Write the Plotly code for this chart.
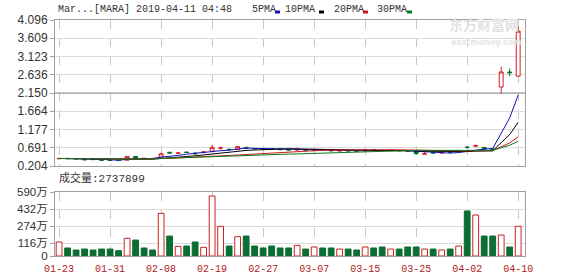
import plotly.graph_objects as go
import pandas as pd

# ---------------- data ----------------
DATES = [
    "2019-01-23", "2019-01-24", "2019-01-25", "2019-01-28", "2019-01-29", "2019-01-30", "2019-01-31",
    "2019-02-01", "2019-02-04", "2019-02-05", "2019-02-06", "2019-02-07", "2019-02-08", "2019-02-11",
    "2019-02-12", "2019-02-13", "2019-02-14", "2019-02-15", "2019-02-19", "2019-02-20", "2019-02-21",
    "2019-02-22", "2019-02-25", "2019-02-26", "2019-02-27", "2019-02-28", "2019-03-01", "2019-03-04",
    "2019-03-05", "2019-03-06", "2019-03-07", "2019-03-08", "2019-03-11", "2019-03-12", "2019-03-13",
    "2019-03-14", "2019-03-15", "2019-03-18", "2019-03-19", "2019-03-20", "2019-03-21", "2019-03-22",
    "2019-03-25", "2019-03-26", "2019-03-27", "2019-03-28", "2019-03-29", "2019-04-01", "2019-04-02",
    "2019-04-03", "2019-04-04", "2019-04-05", "2019-04-08", "2019-04-09", "2019-04-10",
]
OPEN = [0.395, 0.41, 0.40, 0.395, 0.38, 0.375, 0.36, 0.355, 0.36, 0.46, 0.41, 0.405, 0.44, 0.57,
        0.54, 0.575, 0.55, 0.56, 0.60, 0.68, 0.65, 0.64, 0.70, 0.67, 0.665, 0.66, 0.65, 0.64,
        0.63, 0.64, 0.62, 0.635, 0.62, 0.60, 0.62, 0.61, 0.60, 0.64, 0.625, 0.61, 0.62, 0.61,
        0.60, 0.52, 0.56, 0.55, 0.58, 0.58, 0.705, 0.735, 0.70, 0.66, 2.31, 2.71, 2.60]
HIGH = [0.41, 0.415, 0.405, 0.40, 0.385, 0.38, 0.365, 0.36, 0.47, 0.47, 0.415, 0.41, 0.56, 0.58,
        0.57, 0.58, 0.56, 0.59, 0.77, 0.72, 0.66, 0.73, 0.71, 0.68, 0.67, 0.665, 0.655, 0.645,
        0.66, 0.645, 0.64, 0.64, 0.625, 0.63, 0.625, 0.615, 0.65, 0.645, 0.63, 0.63, 0.625, 0.615,
        0.605, 0.58, 0.565, 0.57, 0.585, 0.62, 0.74, 0.78, 0.71, 0.67, 2.85, 2.80, 3.93]
LOW = [0.39, 0.395, 0.39, 0.36, 0.37, 0.35, 0.345, 0.34, 0.355, 0.40, 0.40, 0.395, 0.43, 0.54,
       0.53, 0.56, 0.52, 0.55, 0.59, 0.64, 0.63, 0.63, 0.66, 0.65, 0.64, 0.64, 0.63, 0.62,
       0.62, 0.62, 0.61, 0.615, 0.60, 0.595, 0.60, 0.595, 0.595, 0.62, 0.61, 0.605, 0.605, 0.595,
       0.52, 0.51, 0.545, 0.545, 0.565, 0.575, 0.67, 0.71, 0.64, 0.63, 2.12, 2.60, 2.58]
CLOSE = [0.405, 0.40, 0.395, 0.37, 0.375, 0.355, 0.35, 0.35, 0.46, 0.41, 0.405, 0.40, 0.53, 0.55,
         0.55, 0.565, 0.53, 0.58, 0.70, 0.685, 0.64, 0.72, 0.67, 0.66, 0.65, 0.645, 0.64, 0.63,
         0.65, 0.625, 0.635, 0.62, 0.61, 0.62, 0.605, 0.60, 0.64, 0.625, 0.615, 0.625, 0.61, 0.60,
         0.53, 0.53, 0.55, 0.56, 0.57, 0.61, 0.70, 0.745, 0.65, 0.64, 2.71, 2.69, 3.80]
VOLUME_WAN = [129, 74, 55, 64, 55, 64, 64, 49, 163, 147, 74, 55, 393, 184,
              89, 92, 129, 80, 553, 273, 92, 178, 184, 92, 74, 92, 74, 74,
              98, 64, 83, 74, 74, 64, 64, 55, 83, 74, 83, 64, 64, 83,
              83, 64, 64, 55, 64, 92, 415, 378, 184, 184, 193, 83, 273.79]
LAST_VOLUME = 2737899

TITLE = "Mar...[MARA] 2019-04-11 04:48"
TICK_DATES = DATES[::6]
TICK_LABELS = [d[5:] for d in TICK_DATES]
PRICE_TICKS = [0.204, 0.691, 1.177, 1.664, 2.150, 2.636, 3.123, 3.609, 4.096]
VOL_TICKS = [0, 116, 274, 432, 590]
MA_NAMES = ["5PMA", "10PMA", "20PMA", "30PMA"]
MA_WINDOWS = [5, 10, 20, 30]
MA_COLORS = ["#1010b8", "#000000", "#d01818", "#0a7a1e"]
MID_LINE = 2.150

UP = "#cc2222"
DOWN = "#0b6e32"

# ---------------- figure ----------------
W, H = 578, 276
X0, X1 = 55, 525
P_TOP, P_BOT = 20, 166
V_TOP, V_BOT = 192, 256
px = lambda v: v / W
py = lambda v: 1 - v / H

fig = go.Figure()

fig.add_trace(go.Candlestick(
    x=DATES, open=OPEN, high=HIGH, low=LOW, close=CLOSE,
    increasing=dict(line=dict(color=UP, width=1), fillcolor="white"),
    decreasing=dict(line=dict(color=DOWN, width=1), fillcolor=DOWN),
    whiskerwidth=0, showlegend=False, xaxis="x", yaxis="y",
))

close_s = pd.Series(CLOSE)
for name, win, col in zip(MA_NAMES, MA_WINDOWS, MA_COLORS):
    ma = close_s.rolling(win, min_periods=1).mean()
    fig.add_trace(go.Scatter(x=DATES, y=ma, mode="lines", line=dict(color=col, width=1),
                             showlegend=False, xaxis="x", yaxis="y"))

up_flags = [c >= o for o, c in zip(OPEN, CLOSE)]
fig.add_trace(go.Bar(
    x=DATES, y=VOLUME_WAN, width=0.68,
    marker=dict(color=["white" if u else DOWN for u in up_flags],
                line=dict(color=[UP if u else DOWN for u in up_flags], width=1)),
    showlegend=False, xaxis="x2", yaxis="y2",
))

axis_common = dict(showline=True, mirror=True, linecolor="#a0a0a0", linewidth=1,
                   zeroline=False, automargin=False)
xr = [-0.48, 54.8]
fig.update_layout(
    width=W, height=H, margin=dict(l=0, r=0, t=0, b=0, pad=0, autoexpand=False),
    paper_bgcolor="white", plot_bgcolor="white",
    xaxis=dict(domain=[px(X0), px(X1)], anchor="y", type="category", range=xr,
               tickvals=TICK_DATES, showticklabels=False, ticks="",
               showgrid=True, gridcolor="#c8c8c8", griddash="dash", gridwidth=1,
               rangeslider=dict(visible=False), **axis_common),
    xaxis2=dict(domain=[px(X0), px(X1)], anchor="y2", type="category", range=xr,
                tickvals=TICK_DATES, ticktext=TICK_LABELS,
                ticks="outside", ticklen=3, tickcolor="rgba(0,0,0,0)",
                tickfont=dict(family="Liberation Mono", size=10, color="#b02020"),
                showgrid=True, gridcolor="#c8c8c8", griddash="dash", gridwidth=1,
                **axis_common),
    yaxis=dict(domain=[py(P_BOT), py(P_TOP)], anchor="x", range=[PRICE_TICKS[0], PRICE_TICKS[-1]],
               tickvals=PRICE_TICKS, ticktext=[f"{v:.3f}" for v in PRICE_TICKS],
               ticks="outside", ticklen=4, tickcolor="#a0a0a0",
               tickfont=dict(family="Liberation Sans", size=12, color="#333333"),
               showgrid=True, gridcolor="#dcdcdc", **axis_common),
    yaxis2=dict(domain=[py(V_BOT), py(V_TOP)], anchor="x2", range=[VOL_TICKS[0], VOL_TICKS[-1]],
                tickvals=VOL_TICKS, ticktext=[f"{v}万" if v else "0" for v in VOL_TICKS],
                ticks="outside", ticklen=4, tickcolor="#a0a0a0",
                tickfont=dict(family="Liberation Sans, Noto Sans CJK SC", size=11.5, color="#333333"),
                showgrid=True, gridcolor="#dcdcdc", **axis_common),
    boxgap=0.35,
)

# darker reference line in price panel
fig.add_shape(type="line", xref="x domain", yref="y", x0=0, x1=1, y0=MID_LINE, y1=MID_LINE,
              line=dict(color="#8c8c8c", width=1))

# watermark
fig.add_annotation(x=px(484), y=py(24), xref="paper", yref="paper", text="<b>东方财富网</b>",
                   showarrow=False, xanchor="center", yanchor="middle",
                   font=dict(family="Noto Sans CJK SC", size=14, color="#e2e2e2"))
fig.add_annotation(x=px(486), y=py(42), xref="paper", yref="paper", text="<b>eastmoney.com</b>",
                   showarrow=False, xanchor="center", yanchor="middle",
                   font=dict(family="DejaVu Sans", size=8, color="#e6e6e6"))

# title line
fig.add_annotation(x=px(56), y=py(9), xref="paper", yref="paper", text=TITLE, showarrow=False,
                   xanchor="left", yanchor="middle",
                   font=dict(family="Liberation Mono", size=10, color="#333333"))
legend_x = [250, 283, 332, 375]
swatch_x = [275, 319, 363, 407]
for name, col, lx, sx in zip(MA_NAMES, MA_COLORS, legend_x, swatch_x):
    fig.add_annotation(x=px(lx), y=py(9), xref="paper", yref="paper", text=name, showarrow=False,
                       xanchor="left", yanchor="middle",
                       font=dict(family="Liberation Mono", size=10, color="#333333"))
    fig.add_shape(type="rect", xref="paper", yref="paper", x0=px(sx), x1=px(sx + 5),
                  y0=py(13.5), y1=py(10.5), line=dict(width=0), fillcolor=col)

# volume label
fig.add_annotation(x=px(57), y=py(178), xref="paper", yref="paper",
                   text=f"成交量:{LAST_VOLUME}", showarrow=False, xanchor="left", yanchor="middle",
                   font=dict(family="Liberation Mono, Noto Sans CJK SC", size=11, color="#333333"))

fig.write_html("out.html")
